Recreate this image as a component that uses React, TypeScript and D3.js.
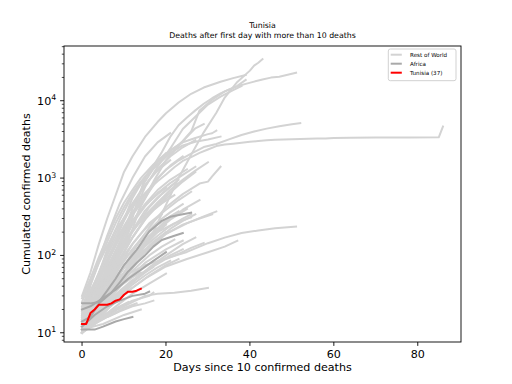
import React from "react";
import * as d3 from "d3";

type P = [number, number];

// ---- Rest of World (day, cumulated deaths) ----
const spainLike: P[] = [[0,30],[2,60],[4,140],[6,300],[8,600],[10,1200],[12,1900],[15,3400],[18,5300],[20,6900],[23,9500],[26,12300],[29,14800],[33,17600],[36,19600],[39,21500]];
const usLike: P[] = [[0,11],[4,19],[8,41],[11,60],[14,110],[17,200],[20,450],[23,1000],[26,2000],[29,3900],[32,7000],[34,11000],[37,17500],[40,24500],[41,28500],[42,31000],[43,34500]];
const italyLike: P[] = [[0,11],[3,17],[5,29],[7,52],[9,107],[11,197],[13,463],[15,1016],[17,1441],[19,2158],[21,3405],[23,4825],[25,6077],[27,7503],[29,9134],[31,10779],[33,12428],[35,13915],[37,15362],[39,16523],[41,17669],[43,18849],[45,19899],[47,20465],[49,21645],[51,23000]];
const franceLike: P[] = [[0,11],[4,20],[8,60],[11,150],[14,450],[17,900],[20,1700],[23,2600],[26,4000],[28,7500],[31,10300],[34,13200],[37,15600],[39,18600]];
const ukLike: P[] = [[0,10],[3,20],[6,55],[9,140],[12,330],[15,760],[18,1400],[21,2400],[24,4300],[27,6200],[30,8900],[33,11300],[36,13700],[38,15500]];
const belgiumLike: P[] = [[0,14],[3,40],[6,120],[9,290],[12,600],[15,1000],[18,1600],[21,2200],[24,3000],[27,4400],[29,5000]];
const germanyLike: P[] = [[0,12],[3,24],[6,55],[9,150],[12,400],[15,900],[18,1600],[21,2300],[24,2900],[27,3300],[30,3700],[31,3800],[32,4100]];
const netherlandsLike: P[] = [[0,10],[3,24],[6,76],[9,210],[12,550],[15,1040],[18,1490],[21,2100],[24,2640],[27,2950],[30,3150],[33,3440]];
const chinaLike: P[] = [[0,17],[2,41],[4,80],[6,132],[8,213],[10,304],[12,425],[14,563],[16,722],[18,908],[20,1113],[22,1380],[24,1665],[26,1868],[28,2118],[30,2345],[32,2592],[34,2715],[36,2788],[38,2870],[40,2943],[42,3012],[44,3073],[46,3123],[48,3162],[50,3180],[52,3204],[54,3231],[56,3250],[58,3259],[60,3292],[64,3330],[70,3340],[78,3350],[85,3360],[86,4632]];
const iranLike: P[] = [[0,15],[3,34],[5,54],[8,107],[11,194],[14,429],[17,853],[20,1284],[23,1685],[26,2077],[29,2517],[32,2757],[35,3160],[38,3603],[41,3993],[44,4357],[47,4683],[50,4958],[52,5118]];
const koreaLike: P[] = [[0,11],[5,28],[10,54],[15,75],[20,91],[25,111],[30,144],[34,170],[38,195],[42,210],[46,225],[51,236]];
const rw12: P[] = [[0,13],[3,27],[6,60],[9,120],[12,260],[15,430],[18,640],[21,860],[24,1100],[27,1400]];
const rw13: P[] = [[0,10],[4,20],[8,45],[12,110],[16,230],[20,420],[24,620],[28,850],[30,900],[31,1050],[33,1400]];
const rw14: P[] = [[0,11],[4,28],[8,70],[12,170],[16,350],[20,580],[24,900],[27,1200]];
const rw15: P[] = [[0,12],[4,25],[8,60],[12,140],[16,260],[20,390],[23,520],[26,665]];
const rw16: P[] = [[0,10],[4,18],[8,40],[12,90],[16,170],[20,270],[24,390],[28,520]];
const rw17: P[] = [[0,11],[5,20],[10,50],[15,110],[20,190],[25,260],[29,320],[32,370]];
const rw18: P[] = [[0,10],[5,18],[10,32],[15,50],[20,72],[25,90],[30,110],[34,130],[37,155]];
const rw19: P[] = [[0,11],[5,16],[10,22],[15,30],[18,32],[22,33],[26,35],[30,38]];
const rw20: P[] = [[0,21],[3,60],[6,180],[9,470],[12,1000],[15,1900],[18,2900],[21,3800]];
const rw21: P[] = [[0,10],[3,22],[6,50],[9,110],[12,210],[15,380],[18,560],[21,780],[23,950]];
const rw22: P[] = [[0,14],[3,30],[6,70],[9,150],[12,280],[15,450],[18,620],[20,750]];
const rw23: P[] = [[0,11],[4,30],[8,80],[12,200],[16,420],[19,620],[22,850]];
const rw24: P[] = [[0,12],[3,20],[6,38],[9,70],[12,120],[15,190],[18,270],[21,360],[24,460]];
const rw25: P[] = [[0,10],[3,18],[6,32],[9,58],[12,95],[15,150],[18,210],[21,290],[25,400]];
const rw26: P[] = [[0,16],[3,35],[6,80],[9,170],[12,330],[15,560],[17,800]];
const rw27: P[] = [[0,13],[4,26],[8,52],[12,100],[16,180],[20,280],[22,330]];
const rw28: P[] = [[0,11],[4,17],[8,28],[12,45],[16,70],[20,100],[24,140],[27,170]];
const rw29: P[] = [[0,12],[5,22],[10,45],[15,80],[20,120],[24,155]];
const rw30: P[] = [[0,10],[4,16],[8,25],[12,38],[16,55],[20,75],[23,90]];
const rw31: P[] = [[0,11],[3,15],[6,22],[9,32],[12,45],[15,60],[17,71]];
const rw32: P[] = [[0,13],[3,19],[6,28],[9,40],[12,52],[14,60]];
const rw33: P[] = [[0,12],[4,15],[8,20],[12,26],[16,30],[17,33]];
const rw34: P[] = [[0,11],[3,13],[6,16],[9,19],[12,22],[15,24],[17,26]];
const rw35: P[] = [[0,10],[2,14],[4,20],[6,28],[8,40],[10,55],[12,70]];
const rw36: P[] = [[0,18],[2,30],[4,52],[6,90],[8,150],[10,240],[12,360],[14,500]];
const rw37: P[] = [[0,25],[2,45],[4,80],[6,150],[8,260],[10,420],[12,640],[14,900],[16,1200]];
const rw38: P[] = [[0,14],[2,20],[4,30],[6,45],[8,68],[10,100],[12,140],[14,190],[16,250],[19,340]];
const rw39: P[] = [[0,11],[2,16],[4,22],[6,30],[8,42],[10,58],[12,80],[14,105],[17,150],[20,200]];
const rw40: P[] = [[0,12],[3,14],[6,18],[9,22],[11,25]];
const rw41: P[] = [[0,11],[5,13],[10,17],[14,20]];
const rw42: P[] = [[0,13],[2,22],[4,38],[6,60],[8,95],[10,150],[13,240],[16,350],[19,470],[22,600]];
const rw43: P[] = [[0,10],[2,12],[4,15],[6,20],[8,26],[10,33],[12,42],[15,55],[18,70],[21,85]];
const rw44: P[] = [[0,12],[4,18],[8,30],[11,42],[14,58],[17,72],[20,90],[23,105],[26,125],[29,145]];
const rw45: P[] = [[0,11],[3,17],[6,27],[9,44],[12,70],[15,110],[18,160],[21,220],[24,280],[27,340]];
const rw46: P[] = [[0,15],[3,25],[6,48],[9,90],[12,170],[15,300],[18,480],[21,700],[24,950],[27,1250],[30,1600]];
const rw47: P[] = [[0,10],[3,13],[6,18],[9,24],[12,32],[15,40],[18,50],[20,58]];
const rw48: P[] = [[0,17],[3,28],[6,45],[9,75],[12,120],[15,180],[18,250],[21,320],[23,370]];
const rw49: P[] = [[0,12],[2,13],[4,15],[6,17],[8,19]];
const rw50: P[] = [[0,28],[2,50],[4,95],[6,170],[8,300],[10,480],[12,700],[14,1000],[17,1500],[20,2100]];
const rw51: P[] = [[0,20],[3,40],[6,85],[9,180],[12,350],[15,620],[18,1000],[21,1450],[24,1900]];
const rw52: P[] = [[0,15],[3,30],[6,65],[9,140],[12,270],[15,460],[18,700],[21,950],[25,1300]];
const rw53: P[] = [[0,12],[3,22],[6,45],[9,90],[12,170],[15,290],[18,440],[21,600]];
const rw54: P[] = [[0,10],[3,16],[6,28],[9,50],[12,85],[15,135],[18,200],[20,250]];
const rw55: P[] = [[0,13],[2,20],[4,33],[6,55],[8,90],[10,140],[12,210],[15,330],[18,480],[20,600]];
const rw56: P[] = [[0,11],[3,20],[6,36],[9,62],[12,100],[15,150],[18,200],[22,260],[26,310]];
const rw57: P[] = [[0,19],[2,32],[4,60],[6,110],[8,190],[10,310],[12,470],[14,680],[16,950],[18,1250],[21,1700]];
const rw58: P[] = [[0,10],[2,13],[4,18],[6,25],[8,35],[10,48],[12,63],[14,80],[16,100],[19,130],[22,160]];
const rw59: P[] = [[0,12],[3,17],[6,24],[9,34],[12,46],[15,62],[18,80],[21,100],[24,120]];
const rw60: P[] = [[0,14],[3,18],[6,25],[9,35],[12,48],[14,55]];
const rw61: P[] = [[0,11],[2,12],[4,14],[6,16],[8,18],[10,21],[13,24]];
const rw62: P[] = [[0,16],[3,24],[6,38],[9,60],[12,90],[15,130],[18,180],[21,240],[24,300],[26,340]];
const rw63: P[] = [[0,13],[4,24],[8,45],[12,80],[16,130],[20,190],[24,250],[28,300],[31,340]];
const rw64: P[] = [[0,22],[3,45],[6,100],[9,220],[12,450],[15,800],[18,1300],[21,1900],[24,2500],[27,3100]];

const restOfWorld: P[][] = [spainLike, usLike, italyLike, franceLike, ukLike, belgiumLike, germanyLike, netherlandsLike, chinaLike, iranLike, koreaLike,
  rw12, rw13, rw14, rw15, rw16, rw17, rw18, rw19, rw20, rw21, rw22, rw23, rw24, rw25, rw26, rw27, rw28, rw29, rw30, rw31, rw32, rw33,
  rw34, rw35, rw36, rw37, rw38, rw39, rw40, rw41, rw42, rw43, rw44, rw45, rw46, rw47, rw48, rw49, rw50, rw51,
  rw52, rw53, rw54, rw55, rw56, rw57, rw58, rw59, rw60, rw61, rw62, rw63, rw64];

// ---- Africa ----
const af1: P[] = [[0,24],[2,24],[4,25],[6,35],[8,50],[10,75],[13,118],[16,204],[19,280],[21,316],[24,340],[26,357]];
const af2: P[] = [[0,14],[2,16],[4,24],[7,33],[9,45],[11,62],[13,80],[15,100],[17,130],[19,158],[22,180],[24,195]];
const af3: P[] = [[0,11],[3,11],[5,12],[8,14],[10,15],[12,16]];
const af4: P[] = [[0,12],[3,17],[6,22],[9,26],[12,30],[15,32],[16,34]];
const af5: P[] = [[0,20],[2,22],[5,28],[8,36],[11,50],[14,65],[17,85],[20,110]];
const africa: P[][] = [af1, af2, af3, af4, af5];

// ---- Tunisia ----
const tunisia: P[] = [[0,13],[1,13],[2,18],[3,20],[4,23],[5,23],[6,23],[7,24],[8,26],[9,27],[10,31],[11,34],[12,34],[13,35],[14,37]];

const xTicks = [0, 20, 40, 60, 80];
const yMajor = [10, 100, 1000, 10000];
const yExp = ["1", "2", "3", "4"];
const legendLabels = ["Rest of World", "Africa", "Tunisia (37)"];
const legendColors = ["#d3d3d3", "#a9a9a9", "#ff0000"];

const W = 512, H = 384;
const L = 64, R = 461, T = 46, B = 342;
const FONT = "DejaVu Sans, sans-serif";

export default function App() {
  const x = d3.scaleLinear().domain([-4.3, 90.3]).range([L, R]);
  const y = d3.scaleLog().domain([7.6, 51000]).range([B, T]);
  const line = d3.line<P>().x((d) => x(d[0])).y((d) => y(d[1]));

  const minor: number[] = [];
  for (let e = 0; e <= 4; e++) {
    for (let m = 2; m <= 9; m++) {
      const v = m * Math.pow(10, e);
      if (v >= 7.6 && v <= 51000) minor.push(v);
    }
  }

  return (
    <svg width={W} height={H} style={{ position: "absolute", left: 0, top: 0 }} fontFamily={FONT}>
      <rect width={W} height={H} fill="white" />
      <defs>
        <clipPath id="plotclip">
          <rect x={L} y={T} width={R - L} height={B - T} />
        </clipPath>
      </defs>
      <g clipPath="url(#plotclip)" fill="none" strokeLinejoin="round" strokeLinecap="square">
        {restOfWorld.map((s, i) => (
          <path key={"rw" + i} d={line(s) || ""} stroke="#d3d3d3" strokeWidth={2} />
        ))}
        {africa.map((s, i) => (
          <path key={"af" + i} d={line(s) || ""} stroke="#a9a9a9" strokeWidth={2} />
        ))}
        <path d={line(tunisia) || ""} stroke="#ff0000" strokeWidth={2} />
      </g>
      <rect x={L} y={T} width={R - L} height={B - T} fill="none" stroke="black" strokeWidth={0.9} />
      {xTicks.map((t) => (
        <g key={"xt" + t}>
          <line x1={x(t)} x2={x(t)} y1={B} y2={B + 3.9} stroke="black" strokeWidth={0.9} />
          <text x={x(t)} y={357.5} fontSize={11.1} textAnchor="middle" fill="black">{t}</text>
        </g>
      ))}
      {minor.map((v) => (
        <line key={"mn" + v} x1={L - 2.2} x2={L} y1={y(v)} y2={y(v)} stroke="black" strokeWidth={0.7} />
      ))}
      {yMajor.map((v, i) => (
        <g key={"ym" + v}>
          <line x1={L - 3.9} x2={L} y1={y(v)} y2={y(v)} stroke="black" strokeWidth={0.9} />
          <text x={L - 7.8} y={y(v) + 4} fontSize={11.1} textAnchor="end" fill="black">
            10<tspan fontSize={7.8} dy={-4.5}>{yExp[i]}</tspan>
          </text>
        </g>
      ))}
      <text x={(L + R) / 2} y={371} fontSize={11.1} textAnchor="middle" fill="black">Days since 10 confirmed deaths</text>
      <text transform={`translate(30,${(T + B) / 2}) rotate(-90)`} fontSize={11.1} textAnchor="middle" fill="black">Cumulated confirmed deaths</text>
      <text x={(L + R) / 2} y={28.4} fontSize={7.8} textAnchor="middle" fill="black">Tunisia</text>
      <text x={(L + R) / 2} y={38.3} fontSize={7.8} textAnchor="middle" fill="black">Deaths after first day with more than 10 deaths</text>
      <g>
        <rect x={388.3} y={49} width={67.7} height={31.7} rx={2} fill="white" fillOpacity={0.8} stroke="#cccccc" strokeWidth={0.9} />
        {legendLabels.map((lab, i) => (
          <g key={"lg" + i}>
            <line x1={390.7} x2={401.8} y1={54.7 + i * 9} y2={54.7 + i * 9} stroke={legendColors[i]} strokeWidth={2} />
            <text x={410} y={54.7 + i * 9 + 2} fontSize={5.6} fill="black">{lab}</text>
          </g>
        ))}
      </g>
    </svg>
  );
}
